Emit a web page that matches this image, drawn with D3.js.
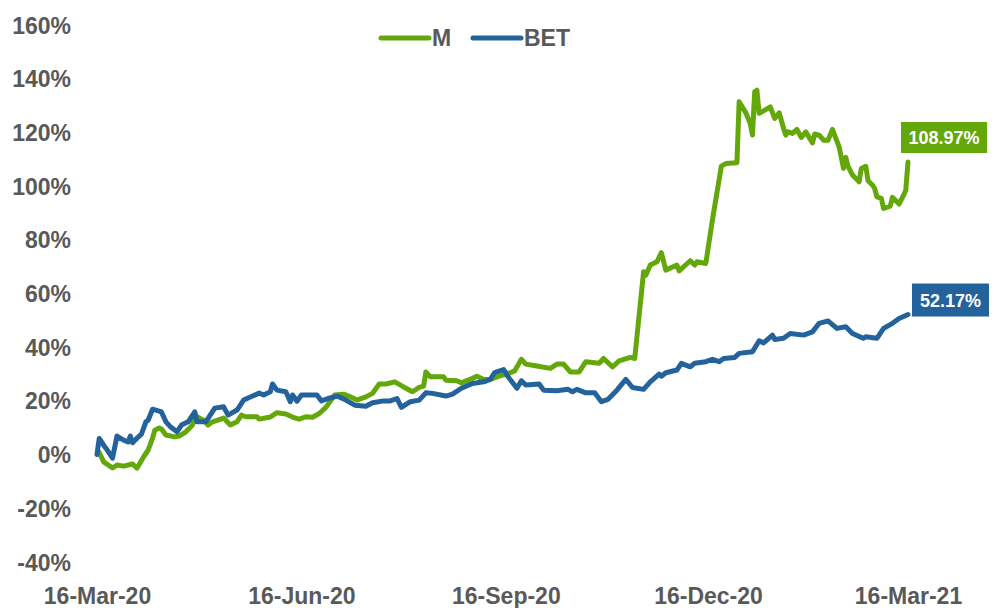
<!DOCTYPE html>
<html>
<head>
<meta charset="utf-8">
<script src="https://cdn.jsdelivr.net/npm/d3@7"></script>
<style>
  body { margin: 0; background: #fff; }
  svg { display: block; font-family: "Liberation Sans", Arial, sans-serif; }
  .axis text { fill: #595959; font-weight: bold; font-size: 23px; }
</style>
</head>
<body>
<svg width="998" height="608"></svg>
<script>
// series names
const seriesNames = ['M', 'BET'];

// M (green) - dates and % change
const mDates = [
  '17-Mar-20','19-Mar-20','23-Mar-20','25-Mar-20','28-Mar-20','01-Apr-20','03-Apr-20','06-Apr-20','08-Apr-20','10-Apr-20',
  '11-Apr-20','13-Apr-20','14-Apr-20','16-Apr-20','20-Apr-20','22-Apr-20','25-Apr-20','28-Apr-20','29-Apr-20','01-May-20',
  '03-May-20','05-May-20','07-May-20','12-May-20','15-May-20','18-May-20','20-May-20','22-May-20','27-May-20','28-May-20',
  '02-Jun-20','05-Jun-20','09-Jun-20','12-Jun-20','15-Jun-20','18-Jun-20','21-Jun-20','24-Jun-20','27-Jun-20','01-Jul-20',
  '05-Jul-20','08-Jul-20','11-Jul-20','15-Jul-20','18-Jul-20','21-Jul-20','24-Jul-20','28-Jul-20','01-Aug-20','05-Aug-20',
  '08-Aug-20','10-Aug-20','11-Aug-20','13-Aug-20','19-Aug-20','20-Aug-20','25-Aug-20','27-Aug-20','01-Sep-20','03-Sep-20',
  '06-Sep-20','09-Sep-20','13-Sep-20','18-Sep-20','20-Sep-20','23-Sep-20','25-Sep-20','30-Sep-20','06-Oct-20','09-Oct-20',
  '12-Oct-20','15-Oct-20','19-Oct-20','22-Oct-20','28-Oct-20','30-Oct-20','03-Nov-20','06-Nov-20','11-Nov-20','13-Nov-20',
  '17-Nov-20','18-Nov-20','20-Nov-20','23-Nov-20','25-Nov-20','27-Nov-20','02-Dec-20','03-Dec-20','08-Dec-20','10-Dec-20',
  '11-Dec-20','15-Dec-20','18-Dec-20','22-Dec-20','24-Dec-20','29-Dec-20','30-Dec-20','02-Jan-21','04-Jan-21','05-Jan-21',
  '06-Jan-21','07-Jan-21','08-Jan-21','10-Jan-21','13-Jan-21','15-Jan-21','17-Jan-21','19-Jan-21','20-Jan-21','21-Jan-21',
  '23-Jan-21','25-Jan-21','27-Jan-21','29-Jan-21','01-Feb-21','02-Feb-21','04-Feb-21','06-Feb-21','08-Feb-21','10-Feb-21',
  '13-Feb-21','15-Feb-21','16-Feb-21','17-Feb-21','19-Feb-21','22-Feb-21','23-Feb-21','25-Feb-21','26-Feb-21','28-Feb-21',
  '01-Mar-21','02-Mar-21','04-Mar-21','05-Mar-21','08-Mar-21','09-Mar-21','12-Mar-21','14-Mar-21','15-Mar-21','16-Mar-21'
];
const mValues = [
  0.8, -2.7, -5.0, -3.9, -4.3, -3.5, -5.0, -0.8, 1.7, 6.1,
  9.1, 9.9, 9.5, 7.3, 6.6, 6.9, 8.5, 11.0, 14.7, 13.6,
  12.8, 11.0, 12.2, 13.6, 11.0, 12.2, 14.7, 14.1, 14.1, 13.2,
  14.0, 15.6, 15.1, 14.0, 13.2, 14.1, 13.9, 15.3, 17.6, 22.2,
  22.5, 21.5, 20.3, 21.5, 22.8, 26.3, 26.3, 27.1, 25.2, 23.4,
  25.0, 25.5, 30.8, 29.0, 29.0, 27.7, 27.5, 26.7, 28.4, 29.2,
  28.0, 28.0, 29.2, 30.5, 31.2, 35.5, 33.7, 33.0, 32.1, 33.7,
  33.7, 30.8, 30.8, 34.6, 34.0, 35.8, 32.7, 34.9, 36.2, 35.8,
  68.1, 66.8, 70.6, 71.8, 75.2, 68.7, 70.6, 68.4, 72.2, 70.6,
  71.8, 71.2, 87.5, 107.4, 108.4, 108.7, 131.4, 127.3, 123.3, 119.0,
  135.1, 135.7, 127.1, 128.0, 129.5, 125.2, 127.3, 121.5, 119.0, 120.2,
  119.6, 121.1, 118.1, 120.2, 116.1, 119.4, 119.0, 117.1, 117.1, 121.1,
  114.6, 106.6, 110.7, 107.4, 104.1, 101.6, 106.6, 107.4, 102.0, 100.4,
  99.1, 96.0, 95.4, 91.7, 92.5, 95.8, 93.3, 96.6, 98.5, 108.97
];

// BET (blue) - dates and % change
const betDates = [
  '16-Mar-20','17-Mar-20','19-Mar-20','20-Mar-20','23-Mar-20','25-Mar-20','28-Mar-20','30-Mar-20','31-Mar-20','01-Apr-20',
  '03-Apr-20','05-Apr-20','07-Apr-20','08-Apr-20','10-Apr-20','14-Apr-20','16-Apr-20','18-Apr-20','21-Apr-20','23-Apr-20',
  '26-Apr-20','29-Apr-20','30-Apr-20','04-May-20','08-May-20','12-May-20','14-May-20','18-May-20','21-May-20','25-May-20',
  '28-May-20','30-May-20','02-Jun-20','03-Jun-20','05-Jun-20','09-Jun-20','11-Jun-20','12-Jun-20','14-Jun-20','16-Jun-20',
  '23-Jun-20','25-Jun-20','28-Jun-20','02-Jul-20','06-Jul-20','10-Jul-20','15-Jul-20','18-Jul-20','23-Jul-20','26-Jul-20',
  '29-Jul-20','31-Jul-20','04-Aug-20','08-Aug-20','11-Aug-20','14-Aug-20','20-Aug-20','23-Aug-20','27-Aug-20','01-Sep-20',
  '06-Sep-20','09-Sep-20','11-Sep-20','15-Sep-20','17-Sep-20','21-Sep-20','23-Sep-20','25-Sep-20','01-Oct-20','03-Oct-20',
  '09-Oct-20','14-Oct-20','16-Oct-20','18-Oct-20','22-Oct-20','26-Oct-20','29-Oct-20','01-Nov-20','05-Nov-20','09-Nov-20',
  '12-Nov-20','17-Nov-20','20-Nov-20','24-Nov-20','25-Nov-20','27-Nov-20','02-Dec-20','04-Dec-20','08-Dec-20','10-Dec-20',
  '15-Dec-20','18-Dec-20','21-Dec-20','23-Dec-20','28-Dec-20','30-Dec-20','05-Jan-21','08-Jan-21','10-Jan-21','14-Jan-21',
  '15-Jan-21','19-Jan-21','22-Jan-21','28-Jan-21','01-Feb-21','04-Feb-21','08-Feb-21','12-Feb-21','16-Feb-21','19-Feb-21',
  '24-Feb-21','25-Feb-21','02-Mar-21','05-Mar-21','09-Mar-21','12-Mar-21','16-Mar-21'
];
const betValues = [
  0.0, 6.0, 3.5, 2.4, -1.3, 6.9, 5.4, 4.7, 6.9, 4.4,
  6.1, 7.6, 12.2, 12.8, 16.9, 15.9, 12.2, 10.4, 8.5, 11.0,
  12.2, 15.9, 12.2, 12.2, 17.3, 17.8, 14.7, 16.6, 20.3, 21.8,
  22.9, 22.2, 23.4, 26.3, 24.0, 23.4, 19.7, 22.2, 19.9, 22.2,
  22.2, 20.0, 20.9, 21.8, 20.3, 18.4, 18.0, 19.3, 20.0, 20.0,
  20.9, 17.6, 19.7, 20.3, 23.0, 22.8, 21.8, 22.5, 24.7, 26.5,
  27.1, 28.0, 30.5, 31.7, 29.0, 24.7, 27.5, 25.9, 26.3, 24.0,
  23.8, 24.3, 23.4, 24.3, 23.0, 23.0, 19.7, 20.6, 24.0, 28.0,
  25.0, 24.3, 27.1, 30.0, 29.2, 30.5, 31.5, 34.0, 32.7, 34.0,
  34.6, 35.5, 34.6, 35.8, 36.2, 37.7, 38.3, 42.4, 41.6, 44.5,
  42.9, 43.3, 45.1, 44.5, 45.7, 48.9, 49.8, 47.0, 47.6, 45.1,
  43.3, 43.9, 43.3, 47.0, 48.9, 50.7, 52.17
];

// axis ticks
const yTicks = [-40, -20, 0, 20, 40, 60, 80, 100, 120, 140, 160];
const xTickLabels = ['16-Mar-20', '16-Jun-20', '16-Sep-20', '16-Dec-20', '16-Mar-21'];

const colors = { M: '#64A70B', BET: '#23629A' };

const parse = d3.timeParse('%d-%b-%y');
const fmt = d3.timeFormat('%d-%b-%y');

const mData = mDates.map((d, i) => ({ date: parse(d), value: mValues[i] }));
const betData = betDates.map((d, i) => ({ date: parse(d), value: betValues[i] }));

const svg = d3.select('svg');

const x = d3.scaleTime()
  .domain([parse('16-Mar-20'), parse('16-Mar-21')])
  .range([97, 908]);
const y = d3.scaleLinear().domain([-40, 160]).range([562, 25]);

// y axis - labels only
svg.append('g')
  .attr('class', 'axis')
  .attr('transform', 'translate(71,0)')
  .call(d3.axisLeft(y).tickValues(yTicks).tickSize(0).tickPadding(0).tickFormat(d => d + '%'))
  .call(g => g.select('.domain').remove())
  .selectAll('text').attr('dy', '0.35em');

// x axis - labels only
svg.append('g')
  .attr('class', 'axis')
  .attr('transform', 'translate(0,587)')
  .call(d3.axisBottom(x).tickValues(xTickLabels.map(parse)).tickSize(0).tickPadding(0).tickFormat(fmt))
  .call(g => g.select('.domain').remove())
  .selectAll('text').attr('dy', '0.72em');

const line = d3.line()
  .x(d => x(d.date))
  .y(d => y(d.value));

svg.append('path')
  .datum(mData)
  .attr('fill', 'none')
  .attr('stroke', colors.M)
  .attr('stroke-width', 5)
  .attr('stroke-linejoin', 'round')
  .attr('stroke-linecap', 'round')
  .attr('d', line);

svg.append('path')
  .datum(betData)
  .attr('fill', 'none')
  .attr('stroke', colors.BET)
  .attr('stroke-width', 5)
  .attr('stroke-linejoin', 'round')
  .attr('stroke-linecap', 'round')
  .attr('d', line);

// end labels
function endLabel(data, color, dx, dy, w, h) {
  const last = data[data.length - 1];
  const lx = x(last.date) + dx, ly = y(last.value) + dy;
  svg.append('rect')
    .attr('x', lx).attr('y', ly)
    .attr('width', w).attr('height', h)
    .attr('fill', color);
  svg.append('text')
    .attr('x', lx + w / 2).attr('y', ly + h / 2)
    .attr('dy', '0.36em')
    .attr('text-anchor', 'middle')
    .attr('fill', '#fff')
    .attr('font-weight', 'bold')
    .attr('font-size', 18)
    .text(last.value.toFixed(2) + '%');
}
endLabel(mData, colors.M, -7, -40, 86, 31);
endLabel(betData, colors.BET, 4, -31, 77, 33);

// legend
const legend = svg.append('g').attr('class', 'axis');
const legendItems = [
  { name: seriesNames[0], x: 381, color: colors.M },
  { name: seriesNames[1], x: 473, color: colors.BET }
];
legendItems.forEach(it => {
  legend.append('line')
    .attr('x1', it.x).attr('x2', it.x + 48)
    .attr('y1', 38).attr('y2', 38)
    .attr('stroke', it.color)
    .attr('stroke-width', 5)
    .attr('stroke-linecap', 'round');
  legend.append('text')
    .attr('x', it.x + 51).attr('y', 38)
    .attr('dy', '0.36em')
    .text(it.name);
});
</script>
</body>
</html>
